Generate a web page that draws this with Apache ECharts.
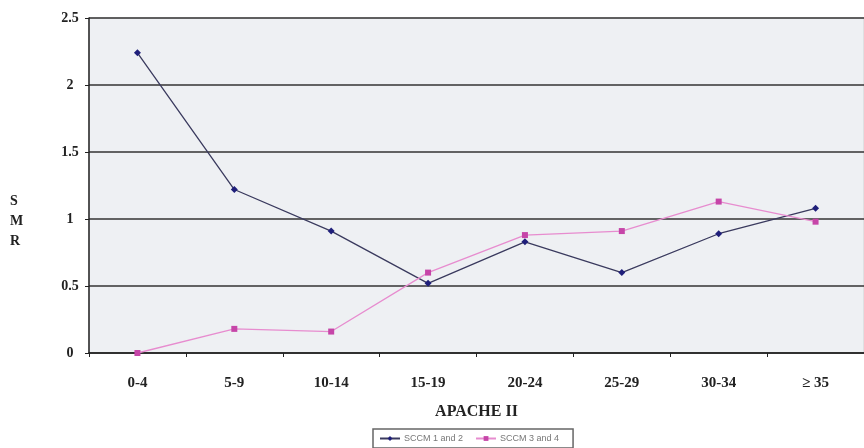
<!DOCTYPE html>
<html>
<head>
<meta charset="utf-8">
<script src="https://cdn.jsdelivr.net/npm/echarts@6/dist/echarts.min.js"></script>
<style>
  html, body { margin: 0; padding: 0; background: #fff; }
  #main { width: 864px; height: 448px; }
</style>
</head>
<body>
<div id="main"></div>
<script>
// APACHE II score bands
var categories = ['0-4', '5-9', '10-14', '15-19', '20-24', '25-29', '30-34', '\u2265 35'];
// SMR per band
var sccm12 = [2.24, 1.22, 0.91, 0.52, 0.83, 0.60, 0.89, 1.08];
var sccm34 = [0.00, 0.18, 0.16, 0.60, 0.88, 0.91, 1.13, 0.98];
var seriesNames = ['SCCM 1 and 2', 'SCCM 3 and 4'];

var serif = '"Liberation Serif", "DejaVu Serif", serif';

var myChart = echarts.init(document.getElementById('main'));
var option = {
    animation: false,
    backgroundColor: '#fff',
    grid: {
        left: 89,
        right: -8,
        top: 18,
        bottom: 95,
        show: true,
        backgroundColor: '#eef0f3',
        borderColor: '#d0d0d0',
        borderWidth: 1
    },
    // the y axis title is stacked letters, placed by hand
    graphic: [{
        type: 'text',
        left: 10,
        top: 191,
        style: {
            text: 'S\nM\nR',
            font: 'bold 14px ' + serif,
            fill: '#222',
            lineHeight: 20,
            align: 'center'
        }
    }],
    legend: {
        data: seriesNames,
        top: 429,
        left: 373,
        itemWidth: 20,
        itemHeight: 6,
        itemGap: 12,
        padding: [5, 14, 5, 6],
        borderColor: '#666',
        borderWidth: 1.5,
        borderRadius: 0,
        backgroundColor: '#fff',
        textStyle: { fontSize: 9, color: '#777', fontFamily: 'Arial, sans-serif', padding: [0, 0, 0, -1] }
    },
    xAxis: {
        type: 'category',
        data: categories,
        boundaryGap: true,
        name: 'APACHE II',
        nameLocation: 'middle',
        nameGap: 51,
        nameTextStyle: { fontFamily: serif, fontWeight: 'bold', fontSize: 16, color: '#222' },
        axisLine: { lineStyle: { color: '#222', width: 1.5 } },
        axisTick: { show: true, length: 4, lineStyle: { color: '#222' } },
        axisLabel: { fontFamily: serif, fontWeight: 'bold', fontSize: 15, color: '#222', margin: 23 },
        splitLine: { show: false }
    },
    yAxis: {
        type: 'value',
        min: 0,
        max: 2.5,
        interval: 0.5,
        axisLine: { show: true, lineStyle: { color: '#222', width: 1.5 } },
        axisTick: { show: true, length: 4, lineStyle: { color: '#222' } },
        axisLabel: { fontFamily: serif, fontWeight: 'bold', fontSize: 14, color: '#222', margin: 19, align: 'center' },
        splitLine: { show: true, lineStyle: { color: '#333', width: 1.5 } }
    },
    series: [
        {
            name: seriesNames[0],
            type: 'line',
            data: sccm12,
            symbol: 'diamond',
            symbolSize: 7,
            lineStyle: { color: '#3a3a5e', width: 1.3 },
            itemStyle: { color: '#1f1f7a' }
        },
        {
            name: seriesNames[1],
            type: 'line',
            data: sccm34,
            symbol: 'rect',
            symbolSize: 6,
            lineStyle: { color: '#e78ccf', width: 1.3 },
            itemStyle: { color: '#c645a8' }
        }
    ]
};
myChart.setOption(option);
</script>
</body>
</html>
